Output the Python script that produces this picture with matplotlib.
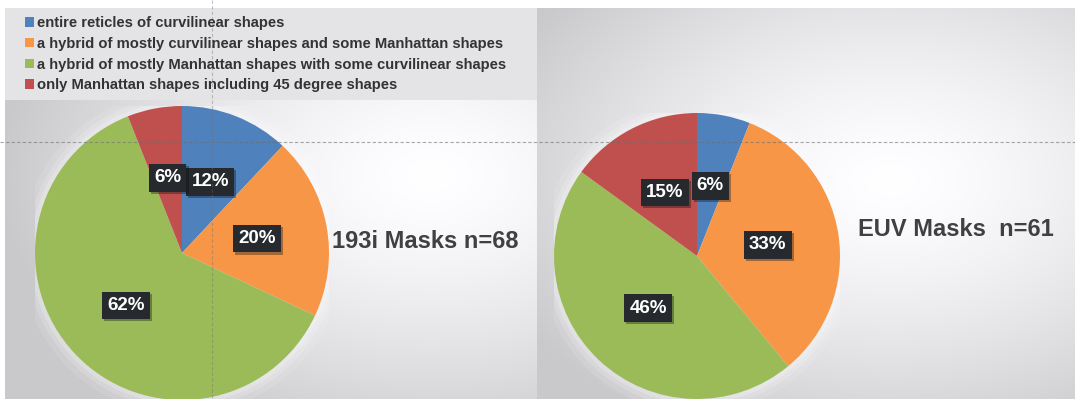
import numpy as np
import matplotlib
matplotlib.use("Agg")
import matplotlib.pyplot as plt
import matplotlib.patheffects as pe
from matplotlib.patches import Rectangle

# shares of each mask style, in percent (clockwise from 12 o'clock)
categories = [
    "entire reticles of curvilinear shapes",
    "a hybrid of mostly curvilinear shapes and some Manhattan shapes",
    "a hybrid of mostly Manhattan shapes with some curvilinear shapes",
    "only Manhattan shapes including 45 degree shapes",
]
masks_193i = [12, 20, 62, 6]
masks_euv = [6, 33, 46, 15]
title_193i = "193i Masks n=68"
title_euv = "EUV Masks  n=61"

colors = ["#4F81BD", "#F79646", "#9BBB59", "#C0504D"]
W, H = 1075, 399
FONT = "Liberation Sans"

fig = plt.figure(figsize=(W / 100, H / 100), dpi=100)

# ---- background: two grey panels with a soft light spot each
bg = fig.add_axes([0, 0, 1, 1], zorder=0)
yy, xx = np.mgrid[0:H, 0:W].astype(float)
img = np.ones((H, W, 3))
for x0, x1, cx, cy in [(5, 537, 430, 175), (537, W, 890, 180)]:
    d = np.sqrt(((xx - cx) / 430.0) ** 2 + ((yy - cy) / 280.0) ** 2)
    v = 1.0 - 0.21 * np.clip(d, 0, 1) ** 1.4
    m = (xx >= x0) & (xx < x1) & (yy >= 8)
    img[m, 0] = v[m]
    img[m, 1] = v[m]
    img[m, 2] = v[m] + 0.012
img = np.clip(img, 0, 1)
bg.imshow(img, extent=(0, W, H, 0), aspect="auto", interpolation="bilinear")
bg.set_xlim(0, W)
bg.set_ylim(H, 0)
bg.axis("off")

# legend panel
bg.add_patch(Rectangle((5, 8), 532, 92, facecolor="#e4e4e6", edgecolor="none"))

bg.text(332, 242, title_193i, fontsize=17, fontweight="bold", color="#404040",
        family=FONT, ha="left", va="center")
bg.text(858, 230, title_euv, fontsize=17, fontweight="bold", color="#404040",
        family=FONT, ha="left", va="center")


def pie_axes(cx, cy, r):
    ax = fig.add_axes([(cx - r) / W, (H - cy - r) / H, 2 * r / W, 2 * r / H], zorder=1)
    return ax


def draw_pie(ax, values, pctdist):
    # soft white halo behind the pie
    for k, a in [(1.10, 0.10), (1.06, 0.15), (1.03, 0.2)]:
        ax.add_patch(plt.Circle((0, 0), k, color="white", alpha=a, lw=0))
    wedges, _, autotexts = ax.pie(
        values, colors=colors, startangle=90, counterclock=False, radius=1,
        autopct=lambda p: f"{p:.0f}%", pctdistance=pctdist,
        wedgeprops=dict(linewidth=0), textprops=dict(clip_on=False),
    )
    ax.set_xlim(-1, 1)
    ax.set_ylim(-1, 1)
    ax.axis("off")
    for t in autotexts:
        t.set_color("white")
        t.set_fontweight("bold")
        t.set_fontsize(13.5)
        t.set_family(FONT)
        t.set_bbox(dict(boxstyle="square,pad=0.28", facecolor="#262a2e", edgecolor="none"))
        t.get_bbox_patch().set_path_effects(
            [pe.withSimplePatchShadow(offset=(1.5, -1.5), alpha=0.35)])
    return wedges


ax1 = pie_axes(182, 253, 147)
wedges = draw_pie(ax1, masks_193i, 0.52)
ax2 = pie_axes(697, 256, 143)
draw_pie(ax2, masks_euv, 0.50)

leg = fig.legend(wedges, categories, loc="upper left",
                 bbox_to_anchor=(15 / W, 1 - 6 / H), frameon=False,
                 prop=dict(family=FONT, weight="bold", size=10.6),
                 handlelength=0.6, handleheight=0.6, handletextpad=0.2,
                 labelspacing=0.45, borderpad=0.2)
for txt in leg.get_texts():
    txt.set_color("#333333")

# ---- dashed guide lines on top
ov = fig.add_axes([0, 0, 1, 1], zorder=3)
ov.patch.set_alpha(0)
ov.set_xlim(0, W)
ov.set_ylim(H, 0)
ov.axis("off")
ov.plot([0, W], [142, 142], color="#6e6e6e", lw=0.8, ls=(0, (3, 2)), alpha=0.6)
ov.plot([212, 212], [0, H], color="#6e6e6e", lw=0.8, ls=(0, (3, 2)), alpha=0.4)

fig.savefig("out.png", dpi=100)
